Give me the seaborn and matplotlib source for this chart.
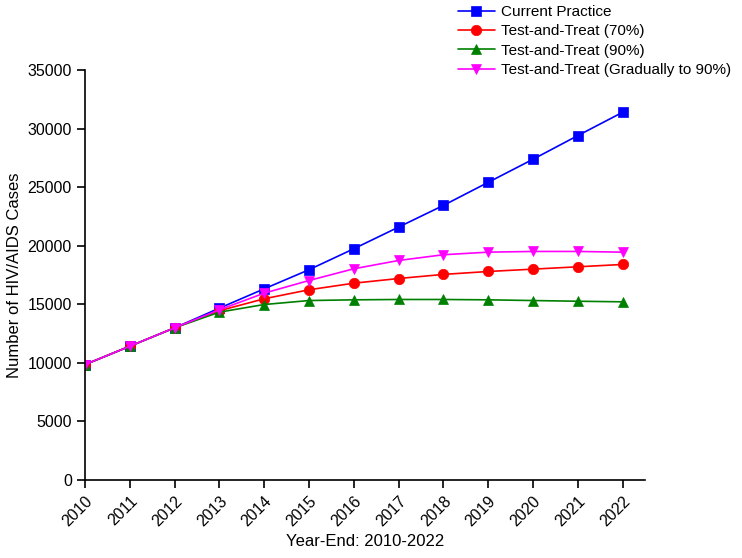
import matplotlib
matplotlib.use("Agg")
import matplotlib.pyplot as plt
import seaborn as sns
import pandas as pd

years = list(range(2010, 2023))
current = [9850, 11420, 12990, 14670, 16320, 17950, 19740, 21590, 23440, 25410, 27380, 29400, 31390]
tt70 = [9850, 11420, 12990, 14450, 15470, 16240, 16800, 17200, 17550, 17800, 18000, 18200, 18400]
tt90 = [9850, 11420, 12990, 14330, 14980, 15320, 15380, 15410, 15410, 15380, 15320, 15260, 15210]
ttgrad = [9850, 11420, 12990, 14530, 15950, 17030, 18030, 18740, 19230, 19450, 19510, 19510, 19450]
series_names = ["Current Practice", "Test-and-Treat (70%)", "Test-and-Treat (90%)",
                "Test-and-Treat (Gradually to 90%)"]
colors = ["#0000FF", "#FF0000", "#008000", "#FF00FF"]
markers = ["s", "o", "^", "v"]

rows = []
for name, vals in zip(series_names, [current, tt70, tt90, ttgrad]):
    for y, v in zip(years, vals):
        rows.append({"Year": y, "Cases": v, "Series": name})
df = pd.DataFrame(rows)

sns.set_theme(style="ticks")
plt.rcParams['font.family'] = ['Liberation Sans', 'DejaVu Sans']
plt.rcParams['text.color'] = 'black'
plt.rcParams['axes.labelcolor'] = 'black'

fig = plt.figure(figsize=(7.42, 5.58), dpi=100)
ax = fig.add_axes([85/742, 1-480/558, (645-85)/742, (480-70)/558])

sns.lineplot(data=df, x="Year", y="Cases", hue="Series", style="Series",
             palette=dict(zip(series_names, colors)),
             markers=dict(zip(series_names, markers)), dashes=False,
             markersize=7.5, markeredgewidth=0.5, linewidth=1.2, ax=ax, legend=True)
for line, c in zip(ax.lines, colors):
    line.set_markeredgecolor(c)

ax.set_xlim(2010, 2022.5)
ax.set_ylim(0, 35000)
ax.set_xticks(years)
ax.set_xticklabels([str(y) for y in years], rotation=45, ha="right", rotation_mode="anchor")
ax.set_yticks(range(0, 35001, 5000))
ax.tick_params(axis="both", labelsize=11.5, direction="out", length=6, width=1.2,
               colors="black", labelcolor="black")
for s in ["left", "bottom"]:
    ax.spines[s].set_linewidth(1.2)
    ax.spines[s].set_color("black")
sns.despine(ax=ax)
ax.set_xlabel("Year-End: 2010-2022", fontsize=12, color="black")
ax.set_ylabel("Number of HIV/AIDS Cases", fontsize=12, color="black")

handles, labels = ax.get_legend_handles_labels()
ax.get_legend().remove()
for h, c in zip(handles, colors):
    h.set_markeredgecolor(c)
fig.legend(handles, labels, loc="upper left", bbox_to_anchor=(452/742, 1.002),
           frameon=False, fontsize=11, handlelength=2.4, labelspacing=0.35,
           handletextpad=0.4, borderaxespad=0, labelcolor="black")

fig.savefig("out.png", dpi=100)
